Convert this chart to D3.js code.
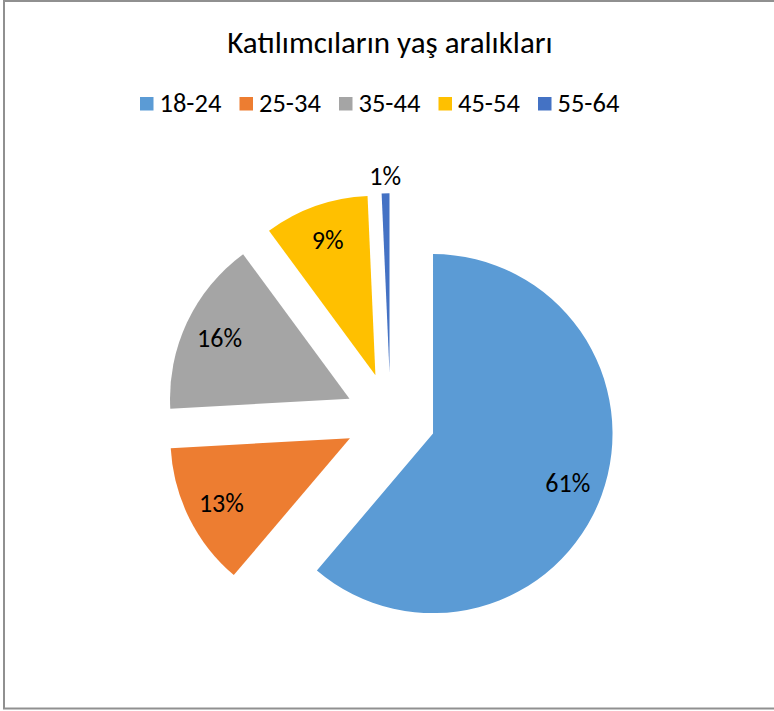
<!DOCTYPE html>
<html>
<head>
<meta charset="utf-8">
<script src="https://cdn.jsdelivr.net/npm/d3@7"></script>
<style>
	body { margin: 0; background: #fff; }
	svg text { font-family: Carlito, Calibri, Lato, sans-serif; fill: #000; }
</style>
</head>
<body>
<svg id="chart"></svg>
<script>
const WIDTH = 774;
const HEIGHT = 711;

// age ranges of participants, shares in percent
const categories = ["18-24", "25-34", "35-44", "45-54", "55-64"];
const shares = [61.2, 12.9, 15.8, 9.4, 0.7];
const colors = ["#5B9BD5", "#ED7D31", "#A5A5A5", "#FFC000", "#4472C4"];
const title = "Katılımcıların yaş aralıkları";

const CX = 390.5;
const CY = 418;
const RADIUS = 179.5;
const EXPLODE = 45.3;

const svg = d3.select("#chart").attr("width", WIDTH).attr("height", HEIGHT);

// chart area border
svg.append("rect")
	.attr("x", 4)
	.attr("y", 1)
	.attr("width", WIDTH + 10)
	.attr("height", 707.5)
	.attr("fill", "#fff")
	.attr("stroke", "#909090")
	.attr("stroke-width", 2);

svg.append("text")
	.attr("x", 390)
	.attr("y", 53)
	.attr("text-anchor", "middle")
	.attr("font-size", 31)
	.text(title);

// legend
const legendX = d3.scalePoint(categories, [140, 538]);
const legend = svg.append("g")
	.selectAll("g")
	.data(categories)
	.join("g")
	.attr("transform", d => `translate(${legendX(d)},0)`);

legend.append("rect")
	.attr("x", 0)
	.attr("y", 97)
	.attr("width", 13.5)
	.attr("height", 13.5)
	.attr("fill", (d, i) => colors[i]);

legend.append("text")
	.attr("x", 19.5)
	.attr("y", 111.5)
	.attr("font-size", 26.5)
	.text(d => d);

// exploded pie
const pie = d3.pie().sort(null).value(d => d.value);
const arcs = pie(categories.map((c, i) => ({ name: c, value: shares[i], color: colors[i] })));
const arc = d3.arc().innerRadius(0).outerRadius(RADIUS);

const bisector = a => (a.startAngle + a.endAngle) / 2;
const offset = (a, r) => {
	const t = bisector(a);
	return [r * Math.sin(t), -r * Math.cos(t)];
};

const slices = svg.append("g")
	.attr("transform", `translate(${CX},${CY})`)
	.selectAll("g")
	.data(arcs)
	.join("g")
	.attr("transform", d => `translate(${offset(d, EXPLODE)})`);

slices.append("path")
	.attr("d", arc)
	.attr("fill", d => d.data.color);

slices.append("text")
	.attr("transform", d => `translate(${offset(d, d.data.value < 3 ? RADIUS * 1.1 : RADIUS * 0.8)})`)
	.attr("text-anchor", "middle")
	.attr("dy", "0.36em")
	.attr("font-size", 26)
	.text(d => Math.round(d.data.value) + "%");
</script>
</body>
</html>
